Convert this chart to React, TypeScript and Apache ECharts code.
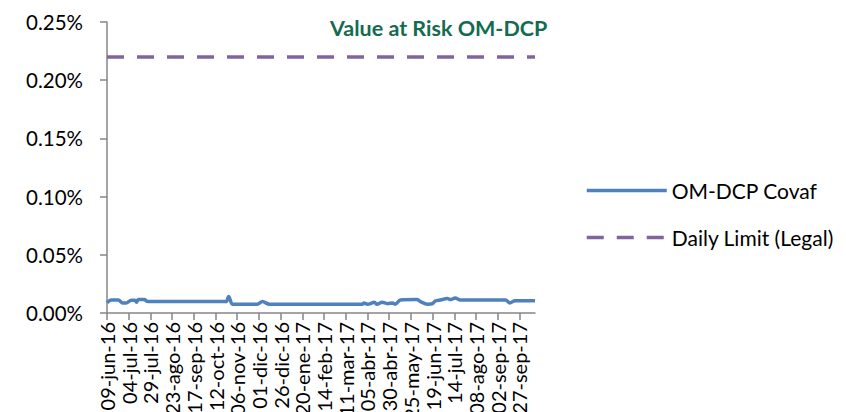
import React, { useEffect, useRef } from "react";
import * as echarts from "echarts";

// Axis range (daily date axis)
const START_DATE = [2016, 6, 9]; // y, m, d
const DAY_COUNT = 494; // 09-jun-16 .. 15-oct-17
const MONTHS = ["ene", "feb", "mar", "abr", "may", "jun", "jul", "ago", "sep", "oct", "nov", "dic"];
const LABEL_EVERY = 25;

// OM-DCP Covaf (in %), breakpoints: day offset from start date, value
const COVAF_DAYS = [0, 5, 13, 18, 22, 28, 32, 34, 36, 43, 47, 137, 140, 145, 173, 179, 187, 294, 296, 300, 308, 311, 317, 323, 329, 332, 338, 357, 361, 369, 375, 378, 384, 392, 396, 401, 407, 459, 464, 470, 493];
const COVAF_VALUES = [0.0089, 0.0112, 0.0112, 0.0086, 0.0086, 0.0109, 0.0109, 0.0092, 0.0115, 0.0115, 0.0098, 0.0098, 0.0141, 0.0075, 0.0075, 0.0098, 0.0075, 0.0075, 0.0085, 0.0075, 0.0092, 0.0075, 0.0092, 0.008, 0.0086, 0.0075, 0.0112, 0.0115, 0.0098, 0.0075, 0.008, 0.0103, 0.0112, 0.0124, 0.0115, 0.0129, 0.0112, 0.0112, 0.0086, 0.0106, 0.0106];

const DAILY_LIMIT = 0.22;

const Y_MIN = 0;
const Y_MAX = 0.25;
const Y_INTERVAL = 0.05;

function dayLabel(offset: number): string {
  const d = new Date(START_DATE[0], START_DATE[1] - 1, START_DATE[2] + offset);
  const dd = String(d.getDate()).padStart(2, "0");
  const yy = String(d.getFullYear() % 100).padStart(2, "0");
  return `${dd}-${MONTHS[d.getMonth()]}-${yy}`;
}

const FONT = "Lato";

export default function App() {
  const ref = useRef<HTMLDivElement>(null);
  useEffect(() => {
    if (!ref.current) return;
    const chart = echarts.init(ref.current, undefined, { renderer: "svg" });
    const categories = Array.from({ length: DAY_COUNT }, (_, i) => dayLabel(i));
    const covaf = COVAF_DAYS.map((d, i) => [categories[d], COVAF_VALUES[i]]);
    const limit = categories.map(() => DAILY_LIMIT);
    chart.setOption({
      animation: false,
      textStyle: { fontFamily: FONT },
      title: {
        text: "Value at Risk OM-DCP",
        left: 325,
        top: 12,
        textStyle: { color: "#146B50", fontWeight: "bold", fontSize: 21.5, fontFamily: FONT },
      },
      legend: {
        orient: "vertical",
        left: 580,
        top: 175,
        itemWidth: 80,
        itemHeight: 14,
        itemGap: 26,
        itemStyle: { opacity: 0 },
        lineStyle: { width: 3.5 },
        textStyle: { fontSize: 21, color: "#000", fontFamily: FONT },
        data: ["OM-DCP Covaf", "Daily Limit (Legal)"],
      },
      grid: { left: 107, right: 311, top: 22, bottom: 99, outerBoundsMode: "none", containLabel: false },
      xAxis: {
        type: "category",
        data: categories,
        boundaryGap: false,
        axisLine: { lineStyle: { color: "#868686", width: 1.5 } },
        axisTick: { show: true, interval: LABEL_EVERY - 1, length: 7, lineStyle: { color: "#868686", width: 1.5 } },
        axisLabel: {
          interval: LABEL_EVERY - 1,
          rotate: 90,
          margin: 9,
          fontSize: 20,
          color: "#000",
          fontFamily: FONT,
        },
        splitLine: { show: false },
      },
      yAxis: {
        type: "value",
        min: Y_MIN,
        max: Y_MAX,
        interval: Y_INTERVAL,
        axisLine: { show: true, lineStyle: { color: "#868686", width: 1.5 } },
        axisTick: { show: true, length: 7, lineStyle: { color: "#868686", width: 1.5 } },
        axisLabel: {
          margin: 24,
          fontSize: 20.5,
          color: "#000",
          fontFamily: FONT,
          formatter: (v: number) => v.toFixed(2) + "%",
        },
        splitLine: { show: false },
      },
      series: [
        {
          name: "OM-DCP Covaf",
          type: "line",
          data: covaf,
          symbol: "none",
          smooth: 0.3,
          lineStyle: { color: "#4F81BD", width: 3.5 },
          itemStyle: { color: "#4F81BD" },
        },
        {
          name: "Daily Limit (Legal)",
          type: "line",
          data: limit,
          symbol: "none",
          lineStyle: { color: "#8064A2", width: 3.5, type: [17, 13] },
          itemStyle: { color: "#8064A2" },
        },
      ],
    });
    return () => chart.dispose();
  }, []);
  return (
    <div
      ref={ref}
      style={{ position: "absolute", left: 0, top: 0, width: 846, height: 412, background: "#fff" }}
    />
  );
}
